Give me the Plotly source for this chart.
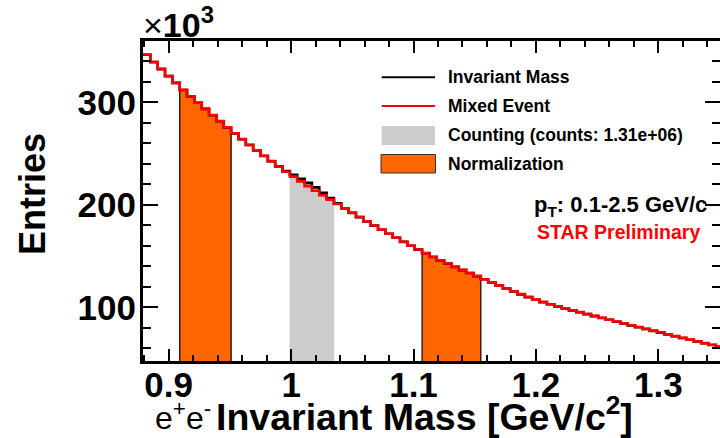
import plotly.graph_objects as go

# ---------------- data (values in units of 10^3 entries) ----------------
BIN_START = 0.879
BIN_WIDTH = 0.006

mixed_event = [
    346.6, 339.5, 332.6, 325.7, 318.9, 312.2, 305.9, 299.7, 293.6, 287.6,
    281.6, 275.6, 269.8, 264.1, 258.5, 253.1, 247.8, 242.6, 237.4, 232.3,
    227.5, 222.8, 218.2, 213.7, 209.3, 205.0, 200.8, 196.5, 192.3, 188.1,
    183.9, 179.8, 175.8, 171.8, 167.8, 163.9, 160.1, 156.4, 152.7, 149.3,
    145.9, 142.7, 139.5, 136.5, 133.5, 130.5, 127.4, 124.4, 121.4, 118.4,
    115.6, 112.8, 110.0, 107.5, 105.2, 103.0, 100.9, 99.0, 97.1, 95.3,
    93.4, 91.6, 89.8, 87.9, 86.1, 84.3, 82.5, 80.7, 78.9, 77.2,
    75.4, 73.6, 71.9, 70.2, 68.5, 66.7, 65.0, 63.4, 61.7,
]

invariant_mass = [
    346.4, 339.1, 332.4, 325.5, 318.9, 312.0, 305.8, 299.5, 293.6, 287.4,
    281.5, 275.4, 269.7, 263.9, 258.4, 253.0, 247.6, 242.5, 237.5, 232.8,
    229.3, 225.3, 221.4, 217.0, 211.8, 206.5, 201.4, 196.6, 192.1, 188.0,
    183.8, 179.7, 175.6, 171.7, 167.9, 163.8, 160.0, 156.3, 152.8, 149.1,
    145.8, 142.6, 139.4, 136.3, 133.4, 130.4, 127.3, 124.3, 121.2, 118.3,
    115.5, 112.6, 109.9, 107.4, 105.0, 102.9, 100.8, 98.8, 97.0, 95.1,
    93.3, 91.4, 89.6, 87.8, 85.9, 84.2, 82.4, 80.6, 78.8, 77.0,
    75.3, 73.5, 71.8, 70.0, 68.4, 66.6, 64.9, 63.2, 61.5,
]

norm_bins_1 = (5, 12)      # [first bin, last bin + 1]
counting_bins = (20, 26)
norm_bins_2 = (38, 46)

x_tick_vals = [0.9, 1.0, 1.1, 1.2, 1.3]
x_tick_text = ["0.9", "1", "1.1", "1.2", "1.3"]
y_tick_vals = [100, 200, 300]
y_tick_text = ["100", "200", "300"]

legend_labels = ["Invariant Mass", "Mixed Event",
                 "Counting (counts: 1.31e+06)", "Normalization"]

# ---------------- styling ----------------
ORANGE = "#ff6600"
GRAY = "#cccccc"
RED = "#ff0000"
FONT = "Liberation Sans"

W, H = 720, 438
L, R, T, B = 143, 0, 41, 77
PW, PH = W - L - R, H - T - B


def px(x):
    return (x - L) / PW


def py(y):
    return (H - B - y) / PH


edges = [BIN_START + i * BIN_WIDTH for i in range(len(mixed_event) + 1)]


def step_xy(vals):
    return edges, list(vals) + [vals[-1]]


def region_xy(vals, lo, hi):
    xs = [edges[lo]] + edges[lo:hi + 1] + [edges[hi]]
    ys = [0] + list(vals[lo:hi]) + [vals[hi - 1], 0]
    return xs, ys


fig = go.Figure()

# shaded regions
for (lo, hi), fc, lc, lw in [
    (counting_bins, GRAY, GRAY, 0.5),
    (norm_bins_1, ORANGE, "black", 1.2),
    (norm_bins_2, ORANGE, "black", 1.2),
]:
    xs, ys = region_xy(invariant_mass, lo, hi)
    fig.add_trace(go.Scatter(x=xs, y=ys, mode="lines", line_shape="hv",
                             fill="toself", fillcolor=fc,
                             line=dict(color=lc, width=lw),
                             showlegend=False, hoverinfo="skip"))

xs, ys = step_xy(invariant_mass)
fig.add_trace(go.Scatter(x=xs, y=ys, mode="lines", line_shape="hv",
                         line=dict(color="black", width=2.6),
                         showlegend=False))
xs, ys = step_xy(mixed_event)
fig.add_trace(go.Scatter(x=xs, y=ys, mode="lines", line_shape="hv",
                         line=dict(color=RED, width=2.6),
                         showlegend=False))
# dummy trace for the right-hand tick axis
fig.add_trace(go.Scatter(x=[None], y=[None], yaxis="y2", showlegend=False,
                         hoverinfo="skip"))

tickfont = dict(family=FONT, size=35, color="black", weight="bold")

fig.update_layout(
    width=W, height=H,
    margin=dict(l=L, r=R, t=T, b=B, pad=0),
    plot_bgcolor="white", paper_bgcolor="white",
    showlegend=False,
    xaxis=dict(
        range=[BIN_START, 1.3504], tickmode="array",
        tickvals=x_tick_vals, ticktext=x_tick_text,
        ticks="inside", ticklen=12, tickwidth=2, tickcolor="black",
        minor=dict(tickmode="linear", tick0=0.9, dtick=0.02, ticks="inside",
                   ticklen=6, tickwidth=2, tickcolor="black"),
        showline=True, linewidth=3, linecolor="black", mirror="ticks",
        showgrid=False, zeroline=False, tickfont=tickfont,
        ticklabelstandoff=-9,
    ),
    yaxis=dict(
        range=[47.6, 359.8], tickmode="array",
        tickvals=y_tick_vals, ticktext=y_tick_text,
        ticks="inside", ticklen=15, tickwidth=2, tickcolor="black",
        minor=dict(tickmode="linear", tick0=0, dtick=20, ticks="inside",
                   ticklen=8, tickwidth=2, tickcolor="black"),
        showline=True, linewidth=3, linecolor="black",
        showgrid=False, zeroline=False, tickfont=tickfont,
        ticklabelstandoff=-3,
    ),
    yaxis2=dict(
        overlaying="y", side="right", range=[47.6, 359.8],
        tickmode="array", tickvals=y_tick_vals, ticktext=y_tick_text,
        showticklabels=False,
        ticks="inside", ticklen=15, tickwidth=2, tickcolor="black",
        minor=dict(tickmode="linear", tick0=0, dtick=20, ticks="inside",
                   ticklen=8, tickwidth=2, tickcolor="black"),
        showline=False, showgrid=False, zeroline=False,
    ),
)

shapes = [
    dict(type="line", xref="paper", yref="paper",
         x0=px(381.7), x1=px(435), y0=py(77.3), y1=py(77.3),
         line=dict(color="black", width=2)),
    dict(type="line", xref="paper", yref="paper",
         x0=px(381.7), x1=px(435), y0=py(106), y1=py(106),
         line=dict(color=RED, width=2)),
    dict(type="rect", xref="paper", yref="paper",
         x0=px(381.7), x1=px(435), y0=py(145), y1=py(126),
         fillcolor=GRAY, line=dict(width=0)),
    dict(type="rect", xref="paper", yref="paper",
         x0=px(381), x1=px(435.5), y0=py(173), y1=py(154.5),
         fillcolor=ORANGE, line=dict(color="#333333", width=1)),
]
fig.update_layout(shapes=shapes)

ann = []
for lab, yc in zip(legend_labels, [77.3, 106, 135, 164]):
    ann.append(dict(text=lab, x=px(446), y=py(yc), xref="paper", yref="paper",
                    xanchor="left", yanchor="middle", showarrow=False,
                    font=dict(family=FONT, size=17.5, color="black",
                              weight="bold")))
ann += [
    dict(text="p<sub>T</sub>: 0.1-2.5 GeV/c", x=px(709), y=py(206),
         xref="paper", yref="paper", xanchor="right", yanchor="middle",
         showarrow=False,
         font=dict(family=FONT, size=22, color="black", weight="bold")),
    dict(text="STAR Preliminary", x=px(702), y=py(232),
         xref="paper", yref="paper", xanchor="right", yanchor="middle",
         showarrow=False,
         font=dict(family=FONT, size=19.5, color=RED, weight="bold")),
    dict(text="Entries", x=px(32), y=py(194), xref="paper", yref="paper",
         xanchor="center", yanchor="middle", textangle=-90, showarrow=False,
         font=dict(family=FONT, size=36, color="black", weight="bold")),
    dict(text="e<sup>+</sup>e<sup>-</sup>",
         x=px(153), y=py(416), xref="paper", yref="paper",
         xanchor="left", yanchor="middle", showarrow=False,
         font=dict(family=FONT, size=32, color="black")),
    dict(text="Invariant Mass [GeV/c<sup>2</sup>]",
         x=px(214), y=py(414), xref="paper", yref="paper",
         xanchor="left", yanchor="middle", showarrow=False,
         font=dict(family=FONT, size=37.5, color="black", weight="bold")),
    dict(text="\u00d7<b>10<sup>3</sup></b>", x=px(141), y=py(22),
         xref="paper", yref="paper", xanchor="left", yanchor="middle",
         showarrow=False,
         font=dict(family=FONT, size=34, color="black")),
]
fig.update_layout(annotations=ann)

fig.write_html("out.html",
               config={"displayModeBar": False},
               post_script="document.body.style.margin='0';"
                           "document.body.style.overflow='hidden';")
